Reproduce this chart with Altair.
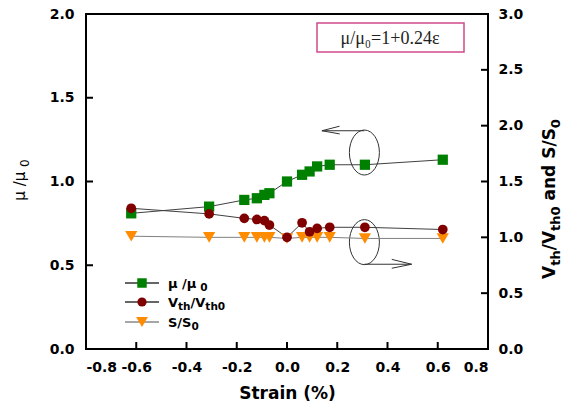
import altair as alt
import pandas as pd

# ---- data ----
strain = [-0.62, -0.31, -0.17, -0.12, -0.09, -0.07, 0.0, 0.06, 0.09, 0.12, 0.17, 0.31, 0.62]
mu_ratio = [0.81, 0.85, 0.89, 0.90, 0.92, 0.93, 1.00, 1.04, 1.06, 1.09, 1.10, 1.10, 1.13]
vth_ratio = [1.26, 1.21, 1.17, 1.16, 1.15, 1.11, 1.00, 1.13, 1.05, 1.08, 1.09, 1.09, 1.07]
ss_ratio = [1.01, 1.00, 1.00, 1.00, 1.00, 1.00, 0.99, 1.00, 1.00, 1.00, 1.00, 0.99, 0.99]

x_ticks = [-0.8, -0.6, -0.4, -0.2, 0.0, 0.2, 0.4, 0.6, 0.8]
left_ticks = [0.0, 0.5, 1.0, 1.5, 2.0]
right_ticks = [0.0, 0.5, 1.0, 1.5, 2.0, 2.5, 3.0]

FONT = "DejaVu Sans"
GREEN = "#008000"
RED = "#800000"
ORANGE = "#ff8c00"

df = pd.DataFrame({"strain": strain, "mu": mu_ratio, "vth": vth_ratio, "ss": ss_ratio})

W, H = 402, 335

# approximate DejaVu Sans advance widths (em)
BOLD_W = {"V": .774, "t": .478, "h": .712, "/": .365, " ": .348, "a": .675, "n": .712,
          "d": .716, "S": .72, "0": .696, "\u03bc": .712}
REG_W = {"\u03bc": .636, "/": .337, " ": .318, "0": .636}


def text_width(s, size, bold):
    tbl = BOLD_W if bold else REG_W
    return sum(tbl.get(c, 0.6) for c in s) * size


one = pd.DataFrame({"a": [0]})


def rich_text(pieces, x0, y0, size, sub_size, bold=True, rotated=False, sub_shift=4, color="black"):
    """pieces: list of (text, is_sub). Lays out text pieces starting at (x0, y0) (baseline)."""
    layers = []
    pos = 0.0
    for txt, is_sub in pieces:
        fs = sub_size if is_sub else size
        lead = len(txt) - len(txt.lstrip(" "))
        pos += text_width(" " * lead, fs, bold)
        core = txt.strip(" ")
        trail = len(txt) - lead - len(core)
        if rotated:
            x = x0 + (sub_shift if is_sub else 0)
            y = y0 - pos
        else:
            x = x0 + pos
            y = y0 + (sub_shift if is_sub else 0)
        layers.append(
            alt.Chart(one).mark_text(
                text=core, font=FONT, fontSize=fs, fontWeight="bold" if bold else "normal",
                color=color, align="left", baseline="alphabetic", angle=270 if rotated else 0,
            ).encode(x=alt.value(x), y=alt.value(y))
        )
        pos += text_width(core, fs, bold) + text_width(" " * trail, fs, bold)
    return layers, pos


def X(field="strain"):
    return alt.X(
        f"{field}:Q",
        scale=alt.Scale(domain=[-0.8, 0.8], nice=False, zero=False),
        axis=alt.Axis(
            values=x_ticks, title="Strain (%)", ticks=False, domain=False, grid=False,
            labelExpr="replace(format(datum.value, '.1f'), '\u2212', '-')",
            labelFont=FONT, labelFontWeight="bold", labelFontSize=14, labelColor="black",
            labelPadding=11, titleFont=FONT, titleFontWeight="bold", titleFontSize=17,
            titleColor="black", titlePadding=11,
        ),
    )


def YL(field="val"):
    return alt.Y(
        f"{field}:Q",
        scale=alt.Scale(domain=[0, 2], nice=False),
        axis=alt.Axis(
            values=left_ticks, format=".1f", title=None, ticks=False,
            domain=False, grid=False, labelFont=FONT, labelFontWeight="bold",
            labelFontSize=14, labelColor="black", labelPadding=12,
        ),
    )


def YR(field="val2"):
    return alt.Y(
        f"{field}:Q",
        scale=alt.Scale(domain=[0, 3], nice=False),
        axis=alt.Axis(
            orient="right", values=right_ticks, format=".1f", title=None, ticks=False,
            domain=False, grid=False, labelFont=FONT, labelFontWeight="bold",
            labelFontSize=14, labelColor="black", labelPadding=10,
        ),
    )


# ---- left-axis series (mu/mu0) ----
mu_df = df.rename(columns={"mu": "val"})
mu_line = alt.Chart(mu_df).mark_line(color="#404040", strokeWidth=1).encode(x=X(), y=YL())
mu_pts = alt.Chart(mu_df).mark_point(shape="square", filled=True, color=GREEN, size=105, opacity=1).encode(x=X(), y=YL())

# annotations (left-axis units)
ell_df = pd.DataFrame({"strain": [0.308, 0.308], "val": [1.173, 0.638]})
k = 0.5523
a = 0.667
ell_path = (
    f"M0,-1C{k*a:.3f},-1 {a},-{k} {a},0C{a},{k} {k*a:.3f},1 0,1"
    f"C-{k*a:.3f},1 -{a},{k} -{a},0C-{a},-{k} -{k*a:.3f},-1 0,-1Z"
)
ellipses = alt.Chart(ell_df).mark_point(
    shape=ell_path, filled=False, stroke="#333333", strokeWidth=1, size=2025, opacity=1
).encode(x=X(), y=YL())

seg_df = pd.DataFrame({
    "strain": [0.308, 0.139, 0.139, 0.308, 0.496, 0.496],
    "s2":     [0.139, 0.209, 0.210, 0.496, 0.417, 0.417],
    "val":    [1.303, 1.303, 1.303, 0.506, 0.506, 0.506],
    "v2":     [1.303, 1.330, 1.284, 0.506, 0.535, 0.482],
})
arrows = alt.Chart(seg_df).mark_rule(color="#333333", strokeWidth=1).encode(
    x=X(), x2="s2:Q", y=YL(), y2="v2:Q"
)

# inward ticks
xt_df = pd.DataFrame({"strain": x_ticks[1:-1]})
x_tick_marks = alt.Chart(xt_df).mark_rule(color="black", strokeWidth=2).encode(
    x=X(), y=alt.value(H), y2=alt.value(H - 7)
)
lt_df = pd.DataFrame({"val": left_ticks[1:-1]})
left_tick_marks = alt.Chart(lt_df).mark_rule(color="black", strokeWidth=2).encode(
    y=YL(), x=alt.value(0), x2=alt.value(7)
)

# equation box
box = alt.Chart(one).mark_rect(fill="white", stroke="#d04a8a", strokeWidth=1.5).encode(
    x=alt.value(231), x2=alt.value(378), y=alt.value(9), y2=alt.value(38)
)
eq = alt.Chart(one).mark_text(
    text="\u03bc/\u03bc\u2080=1+0.24\u03b5", font="Liberation Serif", fontSize=18,
    color="#222222", align="center", baseline="middle"
).encode(x=alt.value(304), y=alt.value(25))

# manual legend
leg_rows = [
    (269, GREEN, "square", 90, "#333333", [("\u03bc /\u03bc ", False), ("0", True)]),
    (288, RED, "circle", 85, "#333333", [("V", False), ("th", True), ("/V", False), ("th0", True)]),
    (308, ORANGE, "triangle-down", 140, "#888888", [("S/S", False), ("0", True)]),
]
legend_layers = []
for yy, col, shp, sz, lcol, pieces in leg_rows:
    legend_layers.append(
        alt.Chart(one).mark_rule(color=lcol, strokeWidth=1.5).encode(
            x=alt.value(39), x2=alt.value(73), y=alt.value(yy)
        )
    )
    legend_layers.append(
        alt.Chart(one).mark_point(shape=shp, filled=True, color=col, size=sz, opacity=1).encode(
            x=alt.value(56), y=alt.value(yy)
        )
    )
    lay, _ = rich_text(pieces, 82, yy + 4.5, 13, 10.5, bold=True, sub_shift=3.5)
    legend_layers += lay

# axis titles drawn as rich text (rotated)
lt_pieces = [("\u03bc /\u03bc ", False), ("0", True)]
lt_len = text_width("\u03bc /\u03bc ", 15, False) + text_width("0", 12, False)
left_title, _ = rich_text(lt_pieces, -61, 166 + lt_len / 2, 15, 12, bold=False, rotated=True, sub_shift=4)

rt_pieces = [("V", False), ("th", True), ("/V", False), ("th0", True), (" and S/S", False), ("0", True)]
rt_len = sum(text_width(t, 13 if s else 17, True) for t, s in rt_pieces)
right_title, _ = rich_text(rt_pieces, W + 67, 185 + rt_len / 2, 17, 13, bold=True, rotated=True, sub_shift=5)

left = alt.layer(
    x_tick_marks, left_tick_marks, mu_line, ellipses, arrows, mu_pts, box, eq,
    *legend_layers, *left_title, *right_title
)

# ---- right-axis series ----
vth_df = df.rename(columns={"vth": "val2"})
ss_df = df.rename(columns={"ss": "val2"})
vth_line = alt.Chart(vth_df).mark_line(color="#404040", strokeWidth=1).encode(x=X(), y=YR())
ss_line = alt.Chart(ss_df).mark_line(color="#808080", strokeWidth=1).encode(x=X(), y=YR())
vth_pts = alt.Chart(vth_df).mark_point(shape="circle", filled=True, color=RED, size=95, opacity=1).encode(x=X(), y=YR())
ss_pts = alt.Chart(ss_df).mark_point(shape="triangle-down", filled=True, color=ORANGE, size=150, opacity=1).encode(x=X(), y=YR())
rt_df = pd.DataFrame({"val2": right_ticks[1:-1]})
right_tick_marks = alt.Chart(rt_df).mark_rule(color="black", strokeWidth=2).encode(
    y=YR(), x=alt.value(W), x2=alt.value(W - 7)
)

right = alt.layer(right_tick_marks, ss_line, vth_line, ss_pts, vth_pts)

chart = (
    alt.layer(left, right)
    .resolve_scale(y="independent")
    .properties(
        width=W, height=H,
        autosize=alt.AutoSizeParams(type="none"),
        padding={"left": 86, "top": 14, "right": 563 - 86 - W, "bottom": 407 - 14 - H},
        background="white",
    )
    .configure_view(stroke="black", strokeWidth=2)
)

chart.save("out.html", embed_options={"renderer": "svg", "actions": False})
